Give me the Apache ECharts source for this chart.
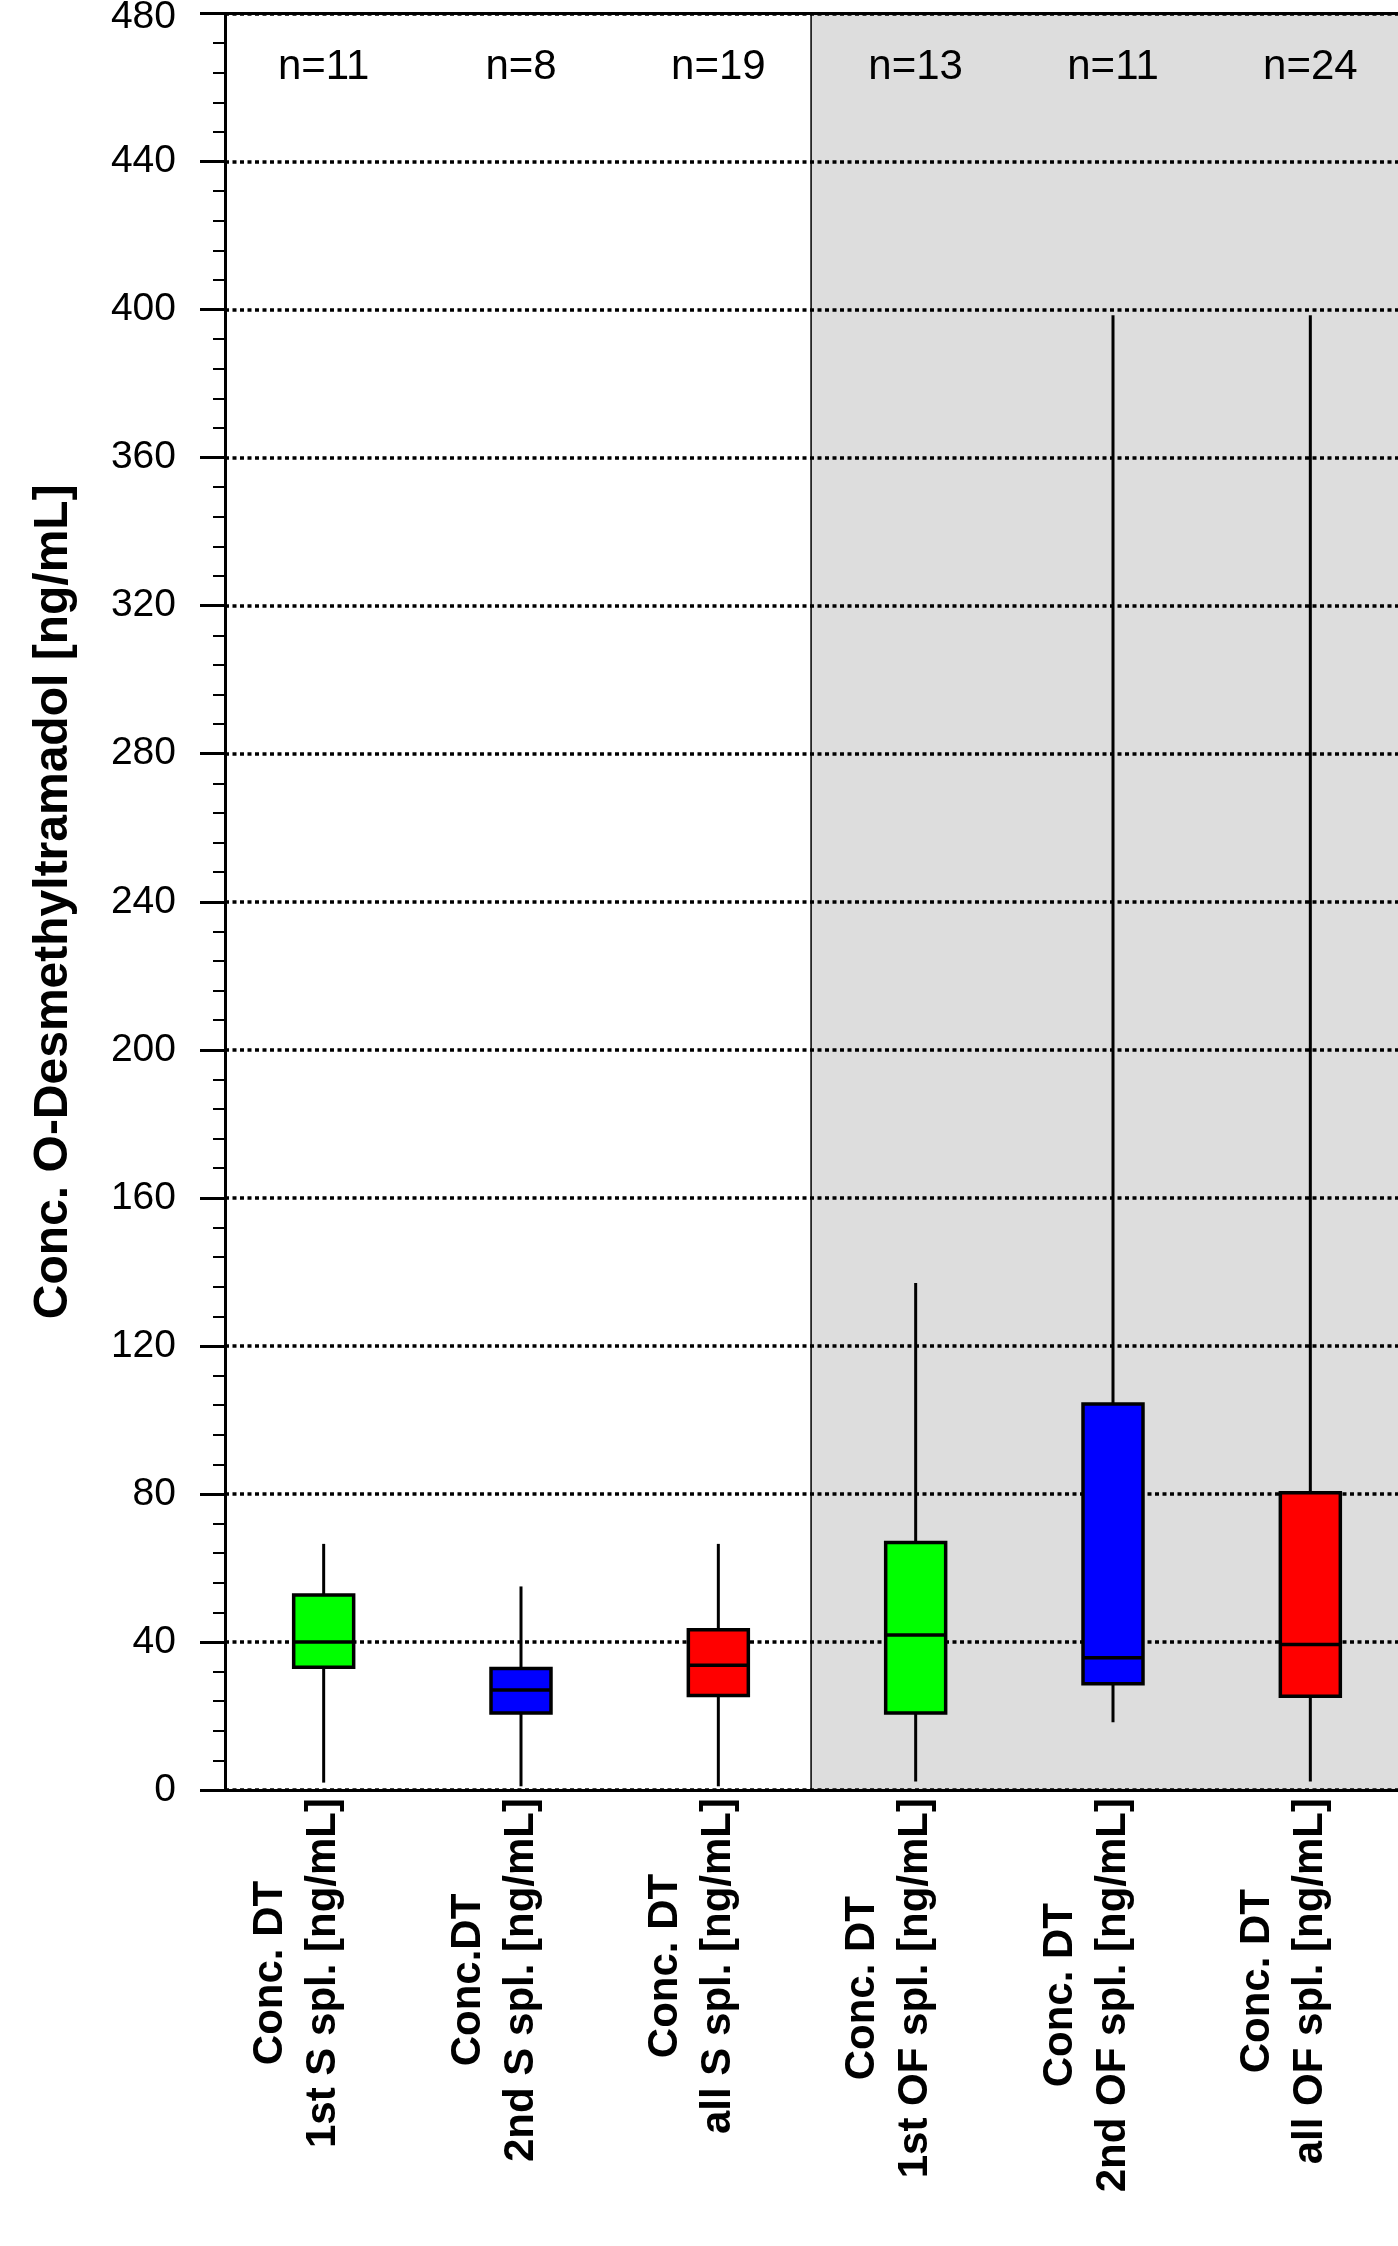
<!DOCTYPE html>
<html>
<head>
<meta charset="utf-8">
<style>
  html, body { margin: 0; padding: 0; background: #fff; }
  #chart { width: 1398px; height: 2246px; }
</style>
<script src="https://cdn.jsdelivr.net/npm/echarts/dist/echarts.min.js"></script>
</head>
<body>
<div id="chart"></div>
<script>
// categories, two lines each
const categories = [
  'Conc. DT\n1st S spl. [ng/mL]',
  'Conc.DT\n2nd S spl. [ng/mL]',
  'Conc. DT\nall S spl. [ng/mL]',
  'Conc. DT\n1st OF spl. [ng/mL]',
  'Conc. DT\n2nd OF spl. [ng/mL]',
  'Conc. DT\nall OF spl. [ng/mL]'
];
const sampleSizes = ['n=11', 'n=8', 'n=19', 'n=13', 'n=11', 'n=24'];
// [min, Q1, median, Q3, max]
const boxValues = [
  [2, 33.2, 40, 52.7, 66.5],
  [1, 20.8, 27, 32.8, 55],
  [1, 25.5, 33.7, 43.3, 66.5],
  [2.3, 20.8, 41.9, 66.9, 137],
  [18.3, 28.7, 35.7, 104.3, 398.5],
  [2.3, 25.3, 39.3, 80.3, 398.5]
];
const boxColors = ['#00ff00', '#0000ff', '#ff0000', '#00ff00', '#0000ff', '#ff0000'];
const yTicks = { min: 0, max: 480, interval: 40 };

const FONT = "'Liberation Sans', Arial, Helvetica, sans-serif";

function renderBox(params, api) {
  const i = api.value(0);
  const pMin = api.coord([i, api.value(1)]);
  const pQ1 = api.coord([i, api.value(2)]);
  const pMed = api.coord([i, api.value(3)]);
  const pQ3 = api.coord([i, api.value(4)]);
  const pMax = api.coord([i, api.value(5)]);
  const half = api.size([1, 0])[0] * 0.152;
  const cx = pMed[0];
  return {
    type: 'group',
    children: [
      { type: 'line', shape: { x1: cx, y1: pMin[1], x2: cx, y2: pMax[1] }, style: { stroke: '#000', lineWidth: 3 } },
      {
        type: 'rect',
        shape: { x: cx - half, y: pQ3[1], width: half * 2, height: pQ1[1] - pQ3[1] },
        style: { fill: boxColors[i], stroke: '#000', lineWidth: 3.5 }
      },
      { type: 'line', shape: { x1: cx - half, y1: pMed[1], x2: cx + half, y2: pMed[1] }, style: { stroke: '#000', lineWidth: 3.5 } }
    ]
  };
}

const chart = echarts.init(document.getElementById('chart'));
chart.setOption({
  backgroundColor: '#fff',
  animation: false,
  grid: { left: 225, top: 13.5, bottom: 456, width: 1184, outerBoundsMode: 'none', containLabel: false },
  xAxis: [
    {
      type: 'category',
      data: categories,
      position: 'bottom',
      axisLine: { lineStyle: { color: '#000', width: 3 } },
      axisTick: { show: false },
      axisLabel: {
        interval: 0,
        rotate: 90,
        margin: 8,
        color: '#000',
        formatter: v => v.split('\n').map(s => '{a|' + s + '}').join('\n') + '\n{a| }',
        rich: {
          a: { fontFamily: FONT, fontSize: 42, fontWeight: 'bold', lineHeight: 53, align: 'center', color: '#000' }
        }
      }
    },
    {
      type: 'category',
      data: sampleSizes,
      position: 'top',
      axisLine: { lineStyle: { color: '#000', width: 3 } },
      axisTick: { show: false },
      axisLabel: { inside: true, interval: 0, margin: 33, fontFamily: FONT, fontSize: 42, color: '#000' }
    },
    { type: 'value', min: 0, max: 6, show: false }
  ],
  yAxis: {
    type: 'value',
    min: yTicks.min,
    max: yTicks.max,
    interval: yTicks.interval,
    name: 'Conc. O-Desmethyltramadol [ng/mL]',
    nameLocation: 'middle',
    nameGap: 147,
    nameTextStyle: { fontFamily: FONT, fontSize: 48, fontWeight: 'bold', color: '#000' },
    axisLine: { show: true, lineStyle: { color: '#000', width: 3 } },
    axisTick: { show: true, length: 25, lineStyle: { color: '#000', width: 3 } },
    minorTick: { show: true, splitNumber: 5, length: 12, lineStyle: { color: '#000', width: 2 } },
    axisLabel: {
      margin: 49, fontFamily: FONT, fontSize: 39, color: '#000', showMaxLabel: true, showMinLabel: true,
      // top label is nudged down a little so it is not cut off
      formatter: v => v === yTicks.max ? '{top|' + v + '}' : String(v),
      rich: { top: { fontFamily: FONT, fontSize: 39, color: '#000', padding: [7, 0, 0, 0] } }
    },
    splitLine: { show: true, lineStyle: { color: '#000', width: 3.5, type: [4, 3.5] } }
  },
  series: [
    {
      type: 'line',
      xAxisIndex: 2,
      z: -10,
      data: [],
      silent: true,
      markArea: {
        silent: true,
        z: -10,
        itemStyle: { color: '#dddddd', borderColor: '#000', borderWidth: 1.5 },
        data: [[{ xAxis: 2.97 }, { xAxis: 6 }]]
      }
    },
    {
      type: 'custom',
      xAxisIndex: 0,
      renderItem: renderBox,
      encode: { x: 0, y: [1, 2, 3, 4, 5] },
      data: boxValues.map((b, i) => [i].concat(b)),
      z: 5
    }
  ]
});
</script>
</body>
</html>
